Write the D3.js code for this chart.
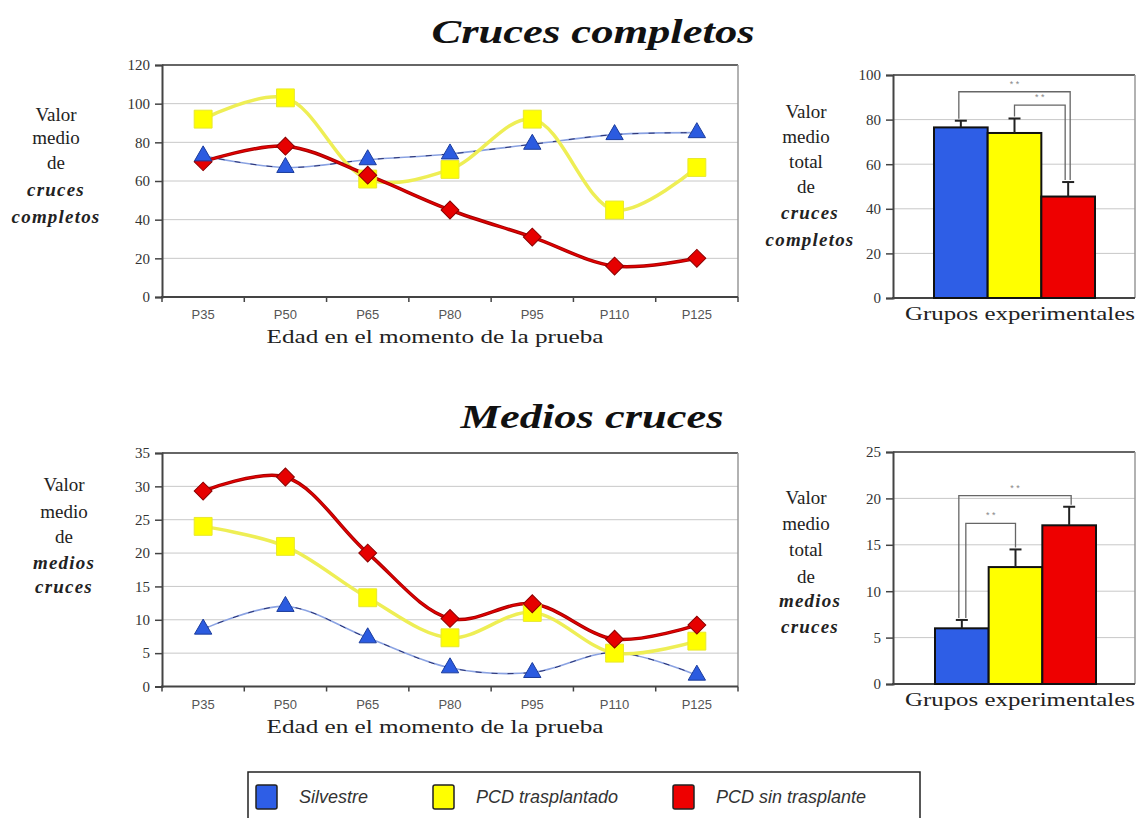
<!DOCTYPE html>
<html>
<head>
<meta charset="utf-8">
<script src="https://cdn.jsdelivr.net/npm/d3@7.9.0/dist/d3.min.js"></script>
<style>
  body { margin: 0; background: #fff; }
  svg { display: block; }
  .serif { font-family: "Liberation Serif", "DejaVu Serif", serif; }
  .sans { font-family: "Liberation Sans", Arial, sans-serif; }
</style>
</head>
<body>
<svg id="chart" width="1138" height="818"></svg>
<script>
// ---- data ----
const edades = ['P35', 'P50', 'P65', 'P80', 'P95', 'P110', 'P125'];
const grupos = ['Silvestre', 'PCD trasplantado', 'PCD sin trasplante'];

const completosSilvestre = [73, 67, 71, 74, 79, 84, 85];
const completosTrasplantado = [92, 103, 61, 66, 92, 45, 67];
const completosSinTrasplante = [70, 78, 63, 45, 31, 16, 20];

const mediosSilvestre = [8.6, 12.0, 7.3, 2.8, 2.1, 5.1, 1.7];
const mediosTrasplantado = [24.0, 21.0, 13.3, 7.3, 11.1, 5.0, 6.8];
const mediosSinTrasplante = [29.3, 31.4, 20.0, 10.2, 12.4, 7.1, 9.2];

const totalCompletos = [76.5, 74, 45.5];
const errorCompletos = [3, 6.5, 6.5];
const totalMedios = [6.0, 12.6, 17.1];
const errorMedios = [0.9, 1.9, 2.0];

// significance pairs [from, to, level]
const sigCompletos = [[0, 2, 92.5], [1, 2, 86.5]];
const sigMedios = [[0, 2, 20.3], [0, 1, 17.3]];

const ticksCompletos = [0, 20, 40, 60, 80, 100, 120];
const ticksMedios = [0, 5, 10, 15, 20, 25, 30, 35];
const ticksTotalCompletos = [0, 20, 40, 60, 80, 100];
const ticksTotalMedios = [0, 5, 10, 15, 20, 25];

const colores = ['#2e5ee6', '#ffff00', '#ee0000'];

const svg = d3.select('#chart');

function addText(g, x, y, txt, opts = {}) {
  const t = g.append('text')
    .attr('x', x).attr('y', y)
    .attr('class', opts.cls || 'serif')
    .attr('text-anchor', opts.anchor || 'middle')
    .attr('font-size', opts.size || 19)
    .attr('fill', opts.fill || '#222')
    .text(txt);
  if (opts.italic) t.attr('font-style', 'italic');
  if (opts.bold) t.attr('font-weight', 'bold');
  if (opts.len) t.attr('textLength', opts.len).attr('lengthAdjust', 'spacingAndGlyphs');
  if (opts.ls) t.attr('letter-spacing', opts.ls);
  return t;
}

function frame(g, x0, x1, y0, y1, yScale, ticks) {
  // grid
  g.selectAll('line.grid').data(ticks.slice(1, -1)).join('line')
    .attr('class', 'grid')
    .attr('x1', x0).attr('x2', x1)
    .attr('y1', d => yScale(d)).attr('y2', d => yScale(d))
    .attr('stroke', '#c8c8c8').attr('stroke-width', 1);
  // top + right border
  g.append('line').attr('x1', x0).attr('x2', x1).attr('y1', y0).attr('y2', y0)
    .attr('stroke', '#666').attr('stroke-width', 2);
  g.append('line').attr('x1', x1).attr('x2', x1).attr('y1', y0).attr('y2', y1)
    .attr('stroke', '#999').attr('stroke-width', 1.5);
  // left axis
  const yAxis = d3.axisLeft(yScale).tickValues(ticks).tickSize(7).tickPadding(5);
  const ya = g.append('g').attr('transform', `translate(${x0},0)`).call(yAxis);
  ya.attr('font-size', null).attr('font-family', null);
  ya.select('.domain').attr('stroke', '#444').attr('stroke-width', 2);
  ya.selectAll('.tick line').attr('stroke', '#444').attr('stroke-width', 1.5);
  ya.selectAll('.tick text').attr('class', 'serif').attr('font-size', 15).attr('fill', '#333');
  // bottom axis line
  g.append('line').attr('x1', x0 - 1).attr('x2', x1).attr('y1', y1).attr('y2', y1)
    .attr('stroke', '#444').attr('stroke-width', 2);
}

function lineChart(cfg) {
  const g = svg.append('g');
  const x = d3.scaleBand().domain(edades).range([cfg.x0, cfg.x1]);
  const y = d3.scaleLinear().domain([0, cfg.max]).range([cfg.y1, cfg.y0]);
  frame(g, cfg.x0, cfg.x1, cfg.y0, cfg.y1, y, cfg.ticks);

  // x ticks at category boundaries
  const bounds = edades.map(d => x(d)).concat([cfg.x1]);
  g.selectAll('line.xt').data(bounds).join('line')
    .attr('x1', d => d).attr('x2', d => d)
    .attr('y1', cfg.y1).attr('y2', cfg.y1 + 5)
    .attr('stroke', '#444').attr('stroke-width', 1.5);
  edades.forEach(e => addText(g, x(e) + x.bandwidth() / 2, cfg.y1 + 22, e,
    { cls: 'sans', size: 13, fill: '#555' }));

  const cx = i => x(edades[i]) + x.bandwidth() / 2;
  const line = d3.line().x((d, i) => cx(i)).y(d => y(d)).curve(d3.curveCatmullRom.alpha(0.5));

  // silvestre: thin blue line with dark dashes
  g.append('path').attr('d', line(cfg.series[0])).attr('fill', 'none')
    .attr('stroke', '#8aa2e2').attr('stroke-width', 1.6);
  g.append('path').attr('d', line(cfg.series[0])).attr('fill', 'none')
    .attr('stroke', '#2a3170').attr('stroke-width', 1).attr('stroke-dasharray', '6,10');
  // trasplantado
  g.append('path').attr('d', line(cfg.series[1])).attr('fill', 'none')
    .attr('stroke', '#eeee55').attr('stroke-width', 3.5);
  // sin trasplante
  g.append('path').attr('d', line(cfg.series[2])).attr('fill', 'none')
    .attr('stroke', '#a00000').attr('stroke-width', 3.5);
  g.append('path').attr('d', line(cfg.series[2])).attr('fill', 'none')
    .attr('stroke', '#e00000').attr('stroke-width', 1.8);

  const tri = d3.symbol(d3.symbolTriangle, 130)();
  const sq = d3.symbol(d3.symbolSquare, 320)();
  const dia = d3.symbol(d3.symbolSquare, 160)();

  cfg.order.forEach(s => {
    const vals = cfg.series[s];
    vals.forEach((v, i) => {
      const p = g.append('path').attr('transform', `translate(${cx(i)},${y(v)})` + (s === 2 ? ' rotate(45)' : ''));
      if (s === 0) p.attr('d', tri).attr('fill', '#2b5be0').attr('stroke', '#1b3c9c').attr('stroke-width', 1);
      if (s === 1) p.attr('d', sq).attr('fill', '#ffff00').attr('stroke', '#e8e830').attr('stroke-width', 1);
      if (s === 2) p.attr('d', dia).attr('fill', '#e60000').attr('stroke', '#8a0000').attr('stroke-width', 1);
    });
  });

  cfg.yTitle.forEach((l, i) => addText(g, cfg.titleX, cfg.titleY[i], l[0],
    { italic: l[1], bold: l[1], size: 19, ls: l[1] ? 1.2 : 0 }));
  addText(g, 435, cfg.y1 + 46, 'Edad en el momento de la prueba', { size: 19, len: 337 });
}

function barChart(cfg) {
  const g = svg.append('g');
  const x = d3.scaleBand().domain(grupos).range([cfg.b0, cfg.b1]);
  const y = d3.scaleLinear().domain([0, cfg.max]).range([cfg.y1, cfg.y0]);
  frame(g, cfg.x0, cfg.x1, cfg.y0, cfg.y1, y, cfg.ticks);

  g.selectAll('rect.bar').data(cfg.values).join('rect')
    .attr('x', (d, i) => x(grupos[i]))
    .attr('y', d => y(d))
    .attr('width', x.bandwidth())
    .attr('height', d => y(0) - y(d))
    .attr('fill', (d, i) => colores[i])
    .attr('stroke', '#111').attr('stroke-width', 2);

  const cx = i => x(grupos[i]) + x.bandwidth() / 2;
  cfg.values.forEach((v, i) => {
    const top = y(v + cfg.errors[i]);
    g.append('line').attr('x1', cx(i)).attr('x2', cx(i)).attr('y1', y(v)).attr('y2', top)
      .attr('stroke', '#222').attr('stroke-width', 2);
    g.append('line').attr('x1', cx(i) - 6).attr('x2', cx(i) + 6).attr('y1', top).attr('y2', top)
      .attr('stroke', '#222').attr('stroke-width', 2);
  });

  cfg.sig.forEach(([a, b, lvl], k) => {
    const xa = cx(a) + cfg.legA[k];
    const xb = cx(b) + cfg.legB[k];
    const yl = y(lvl);
    const path = d3.path();
    path.moveTo(xa, y(cfg.values[a] + cfg.errors[a]) - 2);
    path.lineTo(xa, yl);
    path.lineTo(xb, yl);
    path.lineTo(xb, y(cfg.values[b] + cfg.errors[b]) - 2);
    g.append('path').attr('d', path.toString()).attr('fill', 'none')
      .attr('stroke', '#666').attr('stroke-width', 1.3);
    addText(g, (xa + xb) / 2, yl - 5, '* *', { cls: 'sans', size: 9, fill: '#888' });
  });

  cfg.yTitle.forEach((l, i) => addText(g, cfg.titleX + (l[1] ? 4 : 0), cfg.titleY[i], l[0],
    { italic: l[1], bold: l[1], size: 19, ls: l[1] ? 1.2 : 0 }));
  addText(g, 1020, cfg.y1 + 22, 'Grupos experimentales', { size: 19, len: 230 });
}

// titles
addText(svg, 593, 43, 'Cruces completos', { size: 34, italic: true, bold: true, len: 323, fill: '#111' });
addText(svg, 592, 428, 'Medios cruces', { size: 34, italic: true, bold: true, len: 263, fill: '#111' });

lineChart({
  x0: 162, x1: 738, y0: 65, y1: 297, max: 120, ticks: ticksCompletos,
  series: [completosSilvestre, completosTrasplantado, completosSinTrasplante],
  order: [1, 2, 0],
  yTitle: [['Valor', false], ['medio', false], ['de', false], ['cruces', true], ['completos', true]],
  titleX: 56, titleY: [121, 144, 169, 196, 223]
});

lineChart({
  x0: 162, x1: 738, y0: 453, y1: 686.5, max: 35, ticks: ticksMedios,
  series: [mediosSilvestre, mediosTrasplantado, mediosSinTrasplante],
  order: [0, 1, 2],
  yTitle: [['Valor', false], ['medio', false], ['de', false], ['medios', true], ['cruces', true]],
  titleX: 64, titleY: [491, 518, 543, 569, 593]
});

barChart({
  x0: 893, x1: 1135, y0: 75, y1: 298, b0: 934, b1: 1095, max: 100,
  ticks: ticksTotalCompletos, values: totalCompletos, errors: errorCompletos,
  sig: sigCompletos, legA: [-2, 0], legB: [2, -3],
  yTitle: [['Valor', false], ['medio', false], ['total', false], ['de', false], ['cruces', true], ['completos', true]],
  titleX: 806, titleY: [118, 143, 168, 193, 219, 246]
});

barChart({
  x0: 893, x1: 1135, y0: 452, y1: 684, b0: 935, b1: 1096, max: 25,
  ticks: ticksTotalMedios, values: totalMedios, errors: errorMedios,
  sig: sigMedios, legA: [-3, 4], legB: [2, 0],
  yTitle: [['Valor', false], ['medio', false], ['total', false], ['de', false], ['medios', true], ['cruces', true]],
  titleX: 806, titleY: [504, 530, 556, 583, 607, 633]
});

// legend
const lg = svg.append('g');
lg.append('rect').attr('x', 248).attr('y', 772).attr('width', 672).attr('height', 60)
  .attr('fill', '#fff').attr('stroke', '#222').attr('stroke-width', 1.5);
const legendX = [256, 433, 673];
grupos.forEach((gname, i) => {
  lg.append('rect').attr('x', legendX[i]).attr('y', 785).attr('width', 21).attr('height', 24)
    .attr('rx', 2).attr('fill', colores[i]).attr('stroke', '#222').attr('stroke-width', 1.5);
  addText(lg, legendX[i] + 43, 803, gname, { cls: 'sans', size: 18, italic: true, anchor: 'start', fill: '#333' });
});
</script>
</body>
</html>
